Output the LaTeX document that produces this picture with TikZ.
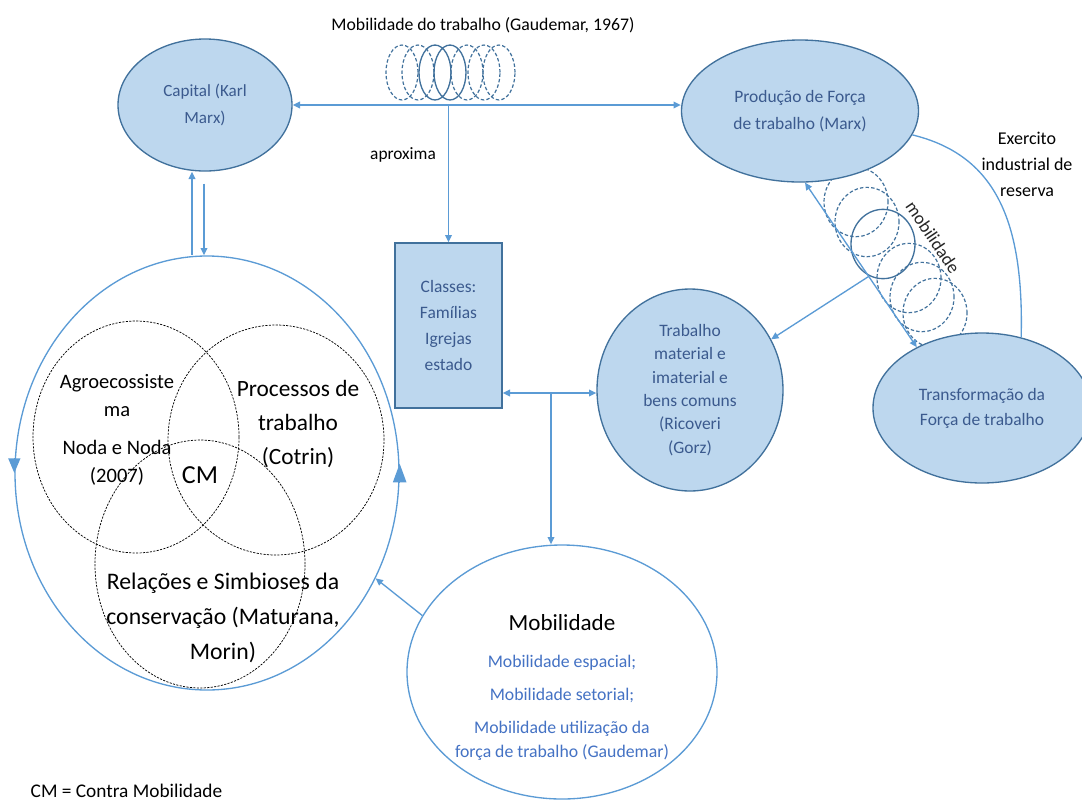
\documentclass[tikz,border=0pt]{standalone}
\usepackage{fontspec}
\setmainfont{Carlito}
\usetikzlibrary{arrows.meta,shapes.geometric,calc}
\definecolor{shapefill}{HTML}{BDD7EE}
\definecolor{shapeline}{HTML}{41719C}
\definecolor{shapetext}{HTML}{3B5A8E}
\definecolor{linkblue}{HTML}{5B9BD5}
\definecolor{mobtext}{HTML}{4472C4}
\begin{document}
\begin{tikzpicture}[x=0.75pt,y=-0.75pt,
  % sizes are given as radii in px
  sz/.style 2 args={minimum width={#1*1.5pt}, minimum height={#2*1.5pt}},
  blob/.style={ellipse, draw=shapeline, fill=shapefill, line width=1pt, inner sep=0pt,
    text=shapetext, align=center},
  link/.style={draw=linkblue, line width=1pt},
  arr/.style={link, -{Triangle[length=5.5pt,width=5pt]}},
  dbl/.style={link, {Triangle[length=5.5pt,width=5pt]}-{Triangle[length=5.5pt,width=5pt]}},
  coild/.style={draw=shapeline, line width=0.9pt, dash pattern=on 2.6pt off 1.6pt},
  coils/.style={draw=shapeline, line width=1pt},
  venn/.style={ellipse, draw=black, line width=0.55pt, dash pattern=on 1.6pt off 1pt, inner sep=0pt},
  fs/.style 2 args={font=\fontsize{#1}{#2}\selectfont}]
\useasboundingbox (0,0) rectangle (1082,801);

% coil between capital and labour power (horizontal)
\foreach \cx in {402,418,467,484,499}
  \draw[coild] (\cx,72.5) ellipse [x radius=12pt, y radius=20.6pt];
\foreach \cx in {435,450}
  \draw[coils] (\cx,72.5) ellipse [x radius=12pt, y radius=20.6pt];

% coil between production and transformation (diagonal)
\foreach \cx/\cy in {856/202,867/222,909/278,922/297,935/313}
  \draw[coild] (\cx,\cy) ellipse [x radius=24pt, y radius=26pt];
\draw[coils] (883,244) ellipse [x radius=24pt, y radius=26pt];

% main shapes
\node[blob, sz={87}{66}, fs={12.8}{20.25}] (cap) at (205,105) {Capital (Karl\\Marx)};
\node[blob, sz={118.5}{71}, fs={13.1}{20.25}] (prod) at (800,111) {Produção de Força\\de trabalho (Marx)};
\node[blob, sz={109}{75}, fs={13.1}{18.75}] (tra) at (982,408) {Transformação da\\Força de trabalho};
\node[blob, sz={93}{101}, fs={13.1}{17.5}] (trab) at (690,390)
  {Trabalho\\material e\\imaterial e\\bens comuns\\(Ricoveri\\(Gorz)};
\node[rectangle, draw=shapeline, fill=shapefill, line width=1pt, text=shapetext, align=center,
  minimum width=80.25pt, minimum height=123.75pt, fs={13.1}{19.5}] (cls) at (448.5,325.5)
  {Classes:\\Famílias\\Igrejas\\estado};
\node[ellipse, draw=linkblue, line width=1pt, fill=white, inner sep=0pt, sz={155}{127}] (mob) at (562,672) {};

% large circle with the three overlapping fields
\node[ellipse, draw=linkblue, line width=1pt, inner sep=0pt, sz={192}{217}] (big) at (207,473) {};
\node[venn, sz={103}{116}] (va) at (136,437) {};
\node[venn, sz={108}{115}] (vb) at (276,440) {};
\node[venn, sz={105}{124}] (vc) at (200,564) {};

% texts
\node[fs={13.3}{14}] (title) at (483,25) {Mobilidade do trabalho (Gaudemar, 1967)};
\node[fs={13}{14}] (aprox) at (403,155) {aproxima};
\node[fs={13.5}{19.5}, align=center] (exer) at (1027,164) {Exercito\\industrial de\\reserva};
\node[fs={13.5}{14}, rotate=-56, text=black!85, inner sep=0pt] (mobl) at (933,237) {mobilidade};
\node[fs={15.4}{21}, align=center] (agro) at (117,430) {Agroecossiste\\ma\\[7.5pt]Noda e Noda\\(2007)};
\node[fs={17.5}{25.5}, align=center] (proc) at (298,424) {Processos de\\trabalho\\(Cotrin)};
\node[fs={19.5}{20}] (cm) at (200,475) {CM};
\node[fs={17.8}{26.5}, align=center] (rel) at (223,618) {Relações e Simbioses da\\conservação (Maturana,\\Morin)};
\node[fs={14.5}{15}, anchor=west] (legend) at (26,791) {CM = Contra Mobilidade};
\node[fs={17.3}{18}] (mobt) at (562,623) {Mobilidade};
\node[fs={13.3}{14}, text=mobtext] (mob1) at (562,663) {Mobilidade espacial;};
\node[fs={13.3}{14}, text=mobtext] (mob2) at (562,695) {Mobilidade setorial;};
\node[fs={13.3}{18}, text=mobtext, align=center] (mob3) at (562,741) {Mobilidade utilização da\\força de trabalho (Gaudemar)};

% direction marks on the large circle
\draw[link, -{Triangle[length=11pt,width=9pt]}] ([yshift=11pt]big.west) -- (big.west);
\draw[link, -{Triangle[length=14pt,width=10pt]}] ([yshift=-7pt]big.east) -- ([yshift=7pt]big.east);

% connectors
\draw[dbl] (cap.east) -- (cap.east -| prod.west);
\coordinate (ap) at (cap.east -| cls.north);
\draw[arr] (ap) -- (cls.north);

\coordinate (upx) at (192,0);
\coordinate (dnx) at (204,0);
\coordinate (dtop) at (dnx |- cap.south);
\draw[arr] (upx |- big.north) -- (upx |- cap.south);
\draw[arr] ($(dtop)+(0,12)$) -- (dnx |- big.north);

\coordinate (midy) at (0,393);
\draw[dbl] (cls.east |- midy) -- (trab.west |- midy);
\coordinate (spl) at (551,393);
\draw[arr] (spl) -- (spl |- mob.north);
\draw[arr] (mob.158) -- (big.-32);

\draw[dbl] (prod.-86) -- (tra.137);
\draw[arr] ($(prod.-86)!0.57!(tra.137)$) -- (trab.32);
\draw[link] (prod.-12) .. controls (995,155) and (1024,220) .. (tra.61);
\end{tikzpicture}
\end{document}
